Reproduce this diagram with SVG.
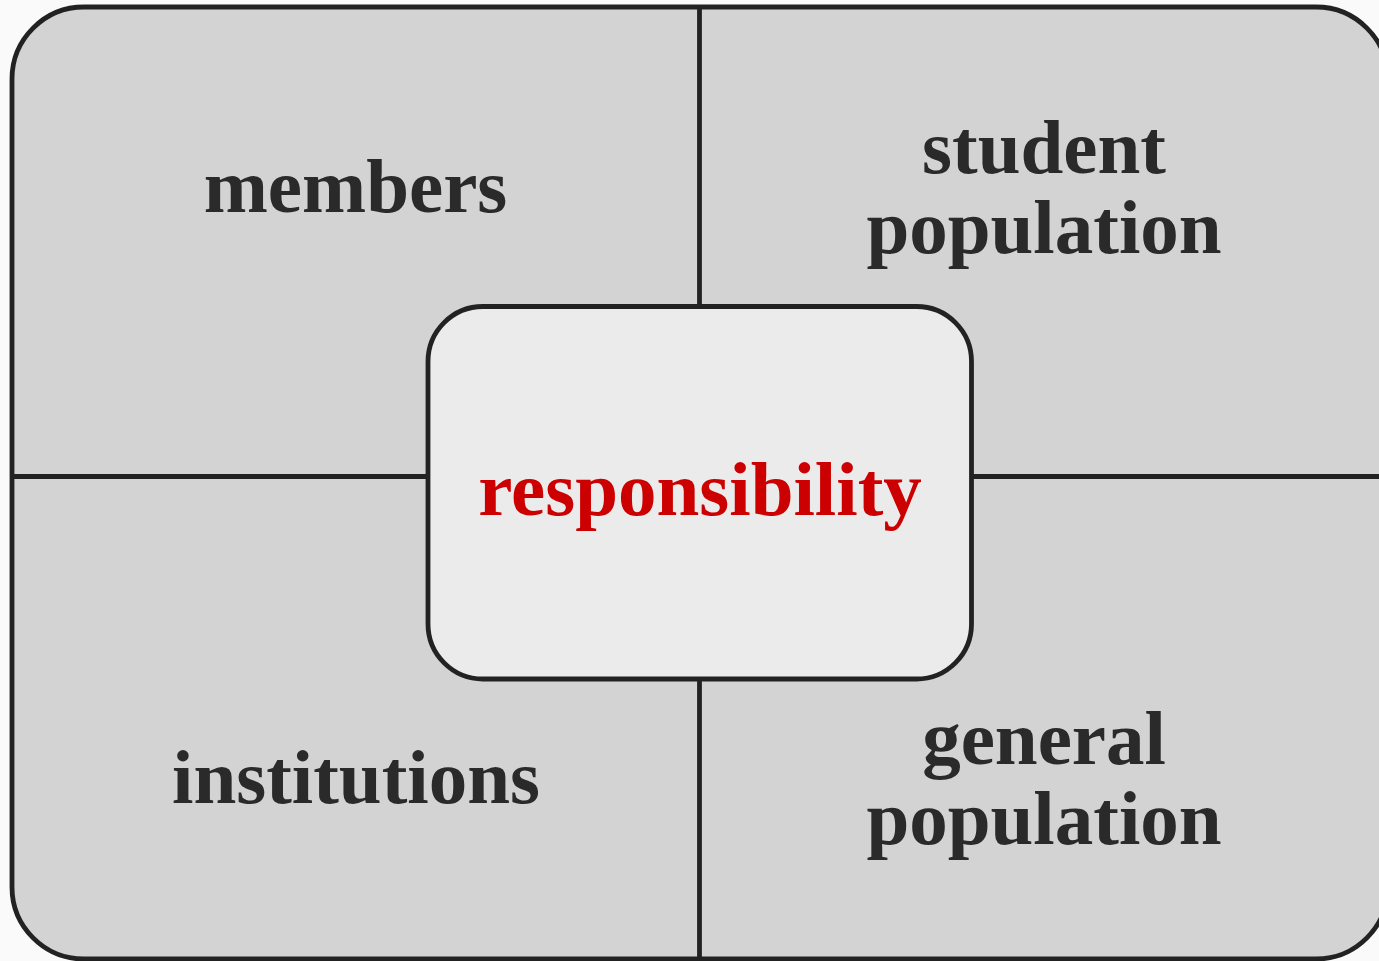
<svg xmlns="http://www.w3.org/2000/svg" width="1379" height="961" viewBox="0 0 1379 961">
<style>
.lbl{font-family:"Liberation Serif","Times New Roman",serif;font-weight:bold;font-size:77px;fill:#2a2a2a;text-anchor:middle}
.ctr{font-family:"Liberation Serif","Times New Roman",serif;font-weight:bold;font-size:77px;fill:#cc0000;text-anchor:middle}
.ln{stroke:#222;stroke-width:4.8;fill:none}
</style>
<rect x="0" y="0" width="1379" height="961" fill="#fafafa"/>
<g id="frame">
<rect x="12" y="7" width="1376" height="952" rx="72" ry="72" fill="#d3d3d3" stroke="#222" stroke-width="4.8"/>
</g>
<g id="connectors">
<line class="ln" x1="699.5" y1="7" x2="699.5" y2="959"/>
<line class="ln" x1="12" y1="476.5" x2="1388" y2="476.5"/>
</g>
<g id="members"><text class="lbl" x="355.5" y="212">members</text></g>
<g id="student-population"><text class="lbl" x="1044" y="173">student</text><text class="lbl" x="1044" y="253">population</text></g>
<g id="institutions"><text class="lbl" x="356" y="803">institutions</text></g>
<g id="general-population"><text class="lbl" x="1044" y="764">general</text><text class="lbl" x="1044" y="844">population</text></g>
<g id="responsibility">
<rect x="428" y="306.5" width="543.5" height="372.5" rx="55" ry="55" fill="#ebebeb" stroke="#222" stroke-width="4.8"/>
<text class="ctr" x="700" y="515">responsibility</text>
</g>
</svg>
